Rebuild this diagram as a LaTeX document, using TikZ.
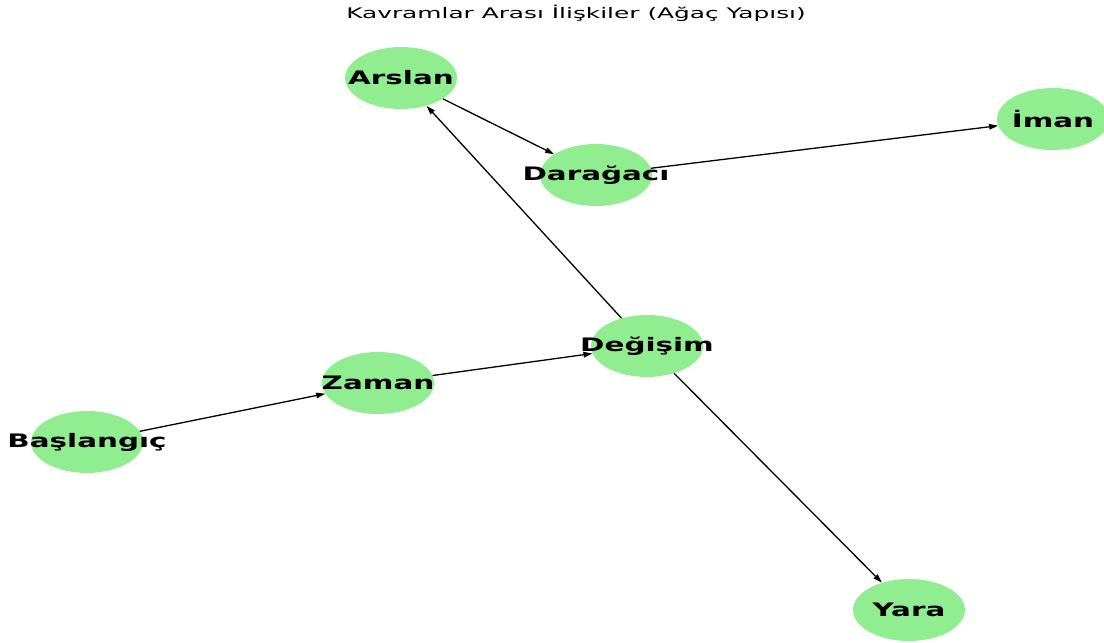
\documentclass[tikz,border=0pt]{standalone}
\usepackage{fontspec}
\usepackage{graphicx}
\setmainfont{DejaVu Sans}
\usetikzlibrary{shapes.geometric,arrows.meta}
\definecolor{nodegreen}{HTML}{90EE90}
\newcommand{\wide}[1]{\scalebox{1.58}[1]{#1}}
\newcommand{\widet}[1]{\scalebox{1.7}[1]{#1}}
\begin{document}
\begin{tikzpicture}[x=1pt,y=-1pt,
  gnode/.style={ellipse, fill=nodegreen, minimum width=112pt, minimum height=62pt, inner sep=0pt},
  glabel/.style={inner sep=0pt, font=\fontsize{18.6}{20}\selectfont\bfseries},
  edge/.style={draw=black, line width=1.3pt, -{Triangle[length=9pt,width=5.5pt]}}]
\useasboundingbox (0,0) rectangle (1104,643);
\clip (0,0) rectangle (1104,643);
\node[inner sep=0pt, font=\fontsize{14.6}{16}\selectfont] (title) at (576,13) {\widet{Kavramlar Arası İlişkiler (Ağaç Yapısı)}};
\node[gnode] (arslan) at (401,78) {};
\node[gnode] (daragaci) at (596,175) {};
\node[gnode] (iman) at (1053,119) {};
\node[gnode] (degisim) at (647,346) {};
\node[gnode] (zaman) at (378,383) {};
\node[gnode] (baslangic) at (87,442) {};
\node[gnode] (yara) at (909,610) {};
\draw[edge] (baslangic) -- (zaman);
\draw[edge] (zaman) -- (degisim);
\draw[edge] (degisim) -- (arslan);
\draw[edge] (degisim) -- (yara);
\draw[edge] (arslan) -- (daragaci);
\draw[edge] (daragaci) -- (iman);
\node[glabel] (l1) at (arslan) {\wide{Arslan}};
\node[glabel] (l2) at (daragaci) {\wide{Darağacı}};
\node[glabel] (l3) at (iman) {\wide{İman}};
\node[glabel] (l4) at (degisim) {\wide{Değişim}};
\node[glabel] (l5) at (zaman) {\wide{Zaman}};
\node[glabel] (l6) at (baslangic) {\wide{Başlangıç}};
\node[glabel] (l7) at (yara) {\wide{Yara}};
\end{tikzpicture}
\end{document}
